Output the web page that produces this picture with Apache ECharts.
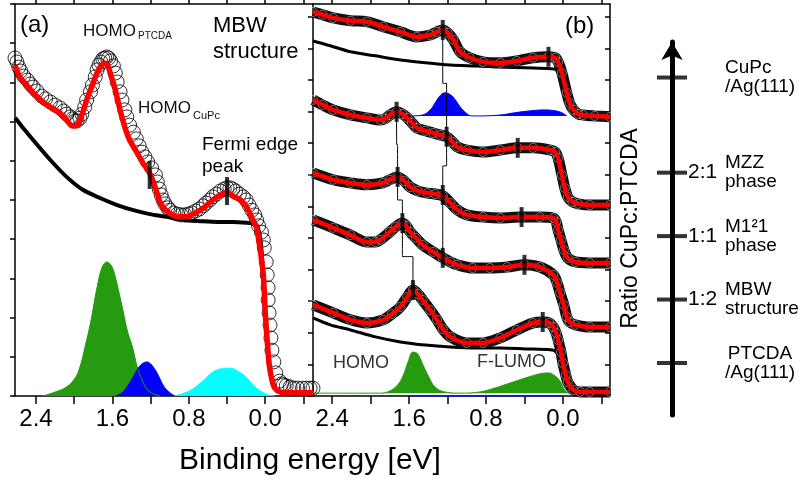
<!DOCTYPE html>
<html>
<head>
<meta charset="utf-8">
<script src="https://cdn.jsdelivr.net/npm/echarts@6.0.0/dist/echarts.min.js"></script>
<style>
html,body{margin:0;padding:0;background:#fff}
#main{width:804px;height:485px}
</style>
</head>
<body>
<div id="main"></div>
<script>
var FONT = '"Liberation Sans", Arial, sans-serif'

// ---- panel (a): MBW structure ----
var aFitE = [2.62,2.57,2.49,2.43,2.34,2.25,2.15,2.08,2.02,1.97,1.92,1.87,1.81,1.76,1.72,1.68,1.65,1.62,1.57,1.52,1.47,1.42,1.34,1.28,1.21,1.15,1.12,1.10,1.04,0.97,0.89,0.82,0.76,0.68,0.61,0.55,0.47,0.40,0.34,0.26,0.19,0.13,0.09,0.06,0.02,0.00,-0.02,-0.04,-0.07,-0.10,-0.16,-0.26,-0.36,-0.50]
var aFitI = [8.44,8.14,7.91,7.73,7.53,7.37,7.22,7.04,6.89,6.91,7.17,7.55,7.93,8.24,8.42,8.49,8.44,8.21,7.81,7.30,6.86,6.53,6.20,5.94,5.69,5.31,5.08,4.92,4.74,4.62,4.57,4.57,4.64,4.74,4.87,5.00,5.13,5.20,5.10,5.00,4.80,4.49,4.29,3.85,3.09,2.12,1.43,0.84,0.41,0.20,0.10,0.08,0.08,0.08]
// measured points (open circles)
var aDataE = [2.62,2.60,2.58,2.56,2.53,2.49,2.46,2.43,2.39,2.34,
	2.30,2.25,2.20,2.15,2.11,2.08,2.04,2.02,1.99,1.97,
	1.94,1.92,1.89,1.87,1.83,1.81,1.78,1.76,1.74,1.72,
	1.70,1.68,1.66,1.64,1.62,1.59,1.57,1.55,1.52,1.50,
	1.47,1.45,1.42,1.38,1.35,1.32,1.29,1.26,1.23,1.19,
	1.15,1.13,1.11,1.09,1.07,1.05,1.02,1.00,0.96,0.92,
	0.88,0.84,0.80,0.77,0.73,0.69,0.65,0.62,0.58,0.55,
	0.51,0.47,0.43,0.40,0.37,0.34,0.31,0.27,0.23,0.20,
	0.17,0.14,0.11,0.09,0.07,0.04,0.02,0.01,-0.01,-0.02,
	-0.03,-0.03,-0.04,-0.05,-0.06,-0.07,-0.09,-0.11,-0.15,-0.17,
	-0.19,-0.22,-0.26,-0.30,-0.34,-0.39,-0.43,-0.47,-0.50]
var aDataI = [8.62,8.52,8.39,8.29,8.16,8.06,7.96,7.88,7.78,7.65,
	7.58,7.50,7.42,7.35,7.27,7.19,7.12,7.07,7.02,7.02,
	7.09,7.19,7.37,7.55,7.76,7.93,8.14,8.32,8.44,8.52,
	8.60,8.62,8.65,8.62,8.55,8.42,8.24,8.01,7.76,7.55,
	7.30,7.12,6.91,6.73,6.56,6.38,6.22,6.10,5.97,5.82,
	5.64,5.46,5.28,5.13,5.00,4.90,4.80,4.74,4.67,4.64,
	4.62,4.62,4.64,4.67,4.72,4.77,4.85,4.92,5.00,5.08,
	5.15,5.23,5.28,5.31,5.31,5.28,5.23,5.15,5.08,5.00,
	4.87,4.74,4.62,4.49,4.34,4.18,3.98,3.78,3.42,3.09,
	2.76,2.45,2.12,1.81,1.48,1.17,0.87,0.59,0.38,0.31,
	0.28,0.26,0.23,0.20,0.20,0.20,0.20,0.20,0.20]
var aBgE = [2.62,2.60,2.52,2.43,2.25,2.08,1.91,1.73,1.55,1.38,1.21,1.03,0.86,0.68,0.50,0.34,0.16,0.10,0.05,0.02,-0.02,-0.05,-0.10,-0.21,-0.50]
var aBgI = [7.09,7.04,6.79,6.53,6.02,5.59,5.26,5.05,4.87,4.74,4.64,4.57,4.49,4.46,4.44,4.44,4.41,4.39,3.98,2.96,1.43,0.66,0.20,0.08,0.08]
var aGreenE = [2.33,2.20,2.08,1.99,1.94,1.89,1.83,1.76,1.71,1.66,1.61,1.57,1.53,1.49,1.44,1.39,1.34,1.29,1.24,1.19,1.10]
var aGreenI = [0,0.10,0.23,0.46,0.74,1.22,1.86,2.78,3.27,3.42,3.32,3.04,2.63,2.19,1.63,1.25,0.74,0.41,0.18,0.08,0]
var aBlueE = [1.57,1.50,1.42,1.37,1.33,1.29,1.24,1.20,1.15,1.11,1.07,1.02,0.95]
var aBlueI = [0,0.08,0.33,0.54,0.71,0.82,0.87,0.82,0.66,0.48,0.28,0.13,0]
var aCyanE = [0.95,0.84,0.76,0.68,0.61,0.55,0.47,0.40,0.33,0.26,0.19,0.13,0.05,-0.03,-0.10]
var aCyanI = [0,0.08,0.18,0.33,0.48,0.61,0.69,0.71,0.69,0.59,0.46,0.28,0.13,0.03,0]
var aMarkE = [1.21,0.40]
var aMarkI = [5.64,5.23]

// ---- panel (b): five spectra, top = CuPc/Ag(111), bottom = PTCDA/Ag(111) ----
var b1E = [2.60,2.50,2.39,2.21,2.04,1.87,1.69,1.52,1.38,1.31,1.25,1.20,1.14,1.07,0.97,0.83,0.65,0.48,0.31,0.15,0.08,0.05,0.01,-0.04,-0.07,-0.11,-0.16,-0.21,-0.33,-0.49]
var b1I = [12.15,12.06,11.96,11.87,11.84,11.68,11.52,11.36,11.42,11.52,11.58,11.49,11.27,10.89,10.70,10.57,10.54,10.60,10.70,10.73,10.70,10.57,10.22,9.59,9.27,9.05,8.92,8.89,8.86,8.83]
var b1BgE = [2.60,2.42,2.21,1.95,1.69,1.43,1.17,0.91,0.65,0.39,0.13,0.07,0.03,-0.02,-0.07,-0.13,-0.23,-0.49]
var b1BgI = [11.23,11.08,10.89,10.76,10.63,10.54,10.47,10.44,10.41,10.38,10.35,10.32,10.06,9.53,9.18,8.96,8.86,8.83]
var bBlueE = [1.56,1.46,1.38,1.33,1.28,1.23,1.17,1.12,1.07,1.01,0.95,0.86,0.65,0.50,0.34,0.19,0.08,0.01,-0.04]
var bBlueI = [8.86,8.89,9.05,9.27,9.49,9.59,9.53,9.37,9.15,8.96,8.86,8.86,8.89,8.96,9.02,9.05,9.02,8.96,8.86]
var b2E = [2.60,2.50,2.39,2.21,2.04,1.90,1.85,1.80,1.73,1.67,1.62,1.57,1.52,1.43,1.35,1.28,1.21,1.15,1.10,1.00,0.83,0.65,0.47,0.31,0.13,0.08,0.05,0.01,-0.02,-0.05,-0.10,-0.16,-0.28,-0.49]
var b2I = [9.37,9.21,9.05,8.89,8.80,8.73,8.77,8.89,8.99,8.92,8.80,8.64,8.48,8.39,8.32,8.26,8.20,8.04,7.88,7.78,7.72,7.78,7.85,7.85,7.78,7.72,7.53,6.99,6.58,6.30,6.14,6.08,6.04,6.04]
var b3E = [2.60,2.39,2.21,2.04,1.87,1.80,1.72,1.65,1.59,1.51,1.41,1.33,1.25,1.17,1.10,1.00,0.83,0.65,0.43,0.24,0.10,0.07,0.05,0.02,-0.01,-0.05,-0.13,-0.28,-0.49]
var b3I = [7.06,6.84,6.74,6.68,6.74,6.84,6.93,6.80,6.61,6.49,6.42,6.39,6.33,6.11,5.89,5.73,5.66,5.63,5.66,5.66,5.63,5.51,5.25,4.94,4.62,4.37,4.24,4.21,4.21]
var b4E = [2.60,2.39,2.21,2.04,1.95,1.90,1.80,1.74,1.67,1.63,1.59,1.53,1.46,1.35,1.25,1.17,1.10,0.94,0.76,0.58,0.40,0.24,0.10,0.06,0.03,-0.01,-0.04,-0.07,-0.13,-0.28,-0.49]
var b4I = [5.57,5.32,5.09,4.87,4.87,4.94,5.19,5.35,5.47,5.38,5.19,5.00,4.78,4.56,4.37,4.24,4.15,4.05,4.05,4.08,4.15,4.08,3.83,3.58,3.26,2.88,2.50,2.34,2.25,2.18,2.18]
var b5E = [2.60,2.39,2.21,2.04,1.87,1.78,1.69,1.62,1.56,1.51,1.46,1.38,1.31,1.25,1.17,1.00,0.83,0.65,0.48,0.31,0.21,0.14,0.10,0.07,0.05,0.02,0.00,-0.03,-0.05,-0.11,-0.18,-0.28,-0.49]
var b5I = [2.88,2.63,2.41,2.31,2.41,2.59,2.82,3.13,3.35,3.23,3.04,2.72,2.41,2.12,1.87,1.68,1.68,1.84,2.09,2.31,2.34,2.31,2.18,1.99,1.77,1.39,1.04,0.66,0.44,0.19,0.13,0.13,0.13]
var b5BgE = [2.60,2.42,2.21,1.95,1.69,1.43,1.17,0.91,0.65,0.39,0.13,0.07,0.03,-0.01,-0.05,-0.13,-0.28,-0.49]
var b5BgI = [2.47,2.25,2.09,1.87,1.71,1.61,1.55,1.52,1.52,1.49,1.46,1.39,1.08,0.66,0.35,0.16,0.13,0.13]
var bGreenE = [2.60,1.90,1.80,1.72,1.66,1.61,1.56,1.51,1.46,1.40,1.33,1.23,1.07,0.86,0.71,0.55,0.39,0.24,0.15,0.08,0.03,-0.02,-0.07,-0.49]
var bGreenI = [0.09,0.09,0.16,0.35,0.66,1.08,1.39,1.33,1.01,0.63,0.28,0.13,0.09,0.13,0.25,0.41,0.57,0.70,0.73,0.63,0.47,0.19,0.09,0.09]
var bZeroE = [1.59,0.01]
var bZeroI = [0,0]
// peak positions (markers) per spectrum
var bHomoPE = [1.73,1.72,1.67,1.56]
var bHomoPI = [8.99,6.93,5.47,3.35]
var bHomoCE = [1.25,1.21,1.25,1.25]
var bHomoCI = [11.58,8.20,6.36,4.37]
var bFermiE = [0.15,0.47,0.43,0.40,0.21]
var bFermiI = [10.73,7.85,5.66,4.15,2.34]

// ---- ratio arrow ----
var ratioPos = [0,1,2,3,4.5]
var ratioText = ['','1:2','1:1','2:1','']
var phaseText = ['{c|PTCDA}\n{c|/Ag(111)}','MBW\nstructure','M1\u00b21\nphase','MZZ\nphase','CuPc\n/Ag(111)']

var tickE = [-0.4,0,0.4,0.8,1.2,1.6,2.0,2.4]
var labelE = [0,0.8,1.6,2.4]

function pts(E,I){ return E.map(function(e,i){return [e,I[i]]}) }
// step connector between markers of neighbouring spectra
function steps(E,I){
	var out=[]
	for(var i=0;i<E.length;i++){
		out.push([E[i],I[i]])
		if(i<E.length-1){
			var mid=(I[i]+I[i+1])/2
			out.push([E[i],mid]); out.push([E[i+1],mid])
		}
	}
	return out
}

function xAx(gi,pos,min,max){
	return {type:'value',gridIndex:gi,position:pos,inverse:true,min:min,max:max,
		axisLine:{show:true,onZero:false,lineStyle:{color:'#000',width:1.5}},
		axisTick:{show:true,inside:false,length:pos=='bottom'?8:6,customValues:tickE,lineStyle:{color:'#000',width:1.5}},
		axisLabel:{show:pos=='bottom',customValues:labelE,margin:11,fontSize:24,color:'#000',fontFamily:FONT,
			formatter:function(v){return v.toFixed(1)}},
		splitLine:{show:false}}
}
function yAx(gi,pos,max,ticks,inside){
	return {type:'value',gridIndex:gi,position:pos,min:0,max:max,
		axisLine:{show:true,onZero:false,lineStyle:{color:'#000',width:1.5}},
		axisTick:{show:true,inside:inside,length:5,customValues:ticks,lineStyle:{color:'#000',width:1.5}},
		axisLabel:{show:false},splitLine:{show:false}}
}
function areaS(xi,yi,data,color,origin){
	return {type:'line',xAxisIndex:xi,yAxisIndex:yi,data:data,symbol:'none',smooth:0.4,
		lineStyle:{color:color,width:1},areaStyle:{color:color,opacity:1,origin:origin},z:2}
}
function lineS(xi,yi,data,color,width,z){
	return {type:'line',xAxisIndex:xi,yAxisIndex:yi,data:data,symbol:'none',smooth:0.3,
		lineStyle:{color:color,width:width},z:z}
}
function markS(xi,yi,data,h){
	return {type:'scatter',xAxisIndex:xi,yAxisIndex:yi,data:data,symbol:'rect',symbolSize:[4,h],
		itemStyle:{color:'#000'},z:8}
}
function bandS(data){
	return {type:'line',xAxisIndex:2,yAxisIndex:1,data:data,smooth:0.3,showAllSymbol:true,
		symbol:'circle',symbolSize:9,lineStyle:{color:'#111',width:11},
		itemStyle:{color:'rgba(0,0,0,0)',borderColor:'rgba(255,255,255,0.4)',borderWidth:1},z:4}
}

var chart = echarts.init(document.getElementById('main'))
var specs=[pts(b1E,b1I),pts(b2E,b2I),pts(b3E,b3I),pts(b4E,b4I),pts(b5E,b5I)]

var series=[
	areaS(0,0,pts(aGreenE,aGreenI),'#279b0f',0),
	areaS(0,0,pts(aBlueE,aBlueI),'#0000ff',0),
	areaS(0,0,pts(aCyanE,aCyanI),'#00ffff',0),
	lineS(0,0,pts(aBgE,aBgI),'#000',4,3),
	{type:'scatter',xAxisIndex:0,yAxisIndex:0,data:pts(aDataE,aDataI),symbol:'circle',symbolSize:14,
		itemStyle:{color:'rgba(0,0,0,0)',borderColor:'#000',borderWidth:1},z:4},
	lineS(0,0,pts(aFitE,aFitI),'#ff0000',5.5,5),
	markS(0,0,pts(aMarkE,aMarkI),28),

	areaS(2,1,pts(bGreenE,bGreenI),'#279b0f',0.09),
	areaS(2,1,pts(bBlueE,bBlueI),'#0000ff',8.86),
	lineS(2,1,pts(bZeroE,bZeroI),'#1f1fb0',2,3),
	lineS(2,1,pts(b1BgE,b1BgI),'#000',3,3),
	lineS(2,1,pts(b5BgE,b5BgI),'#000',3,3)
]
specs.forEach(function(d){ series.push(bandS(d)) })
specs.forEach(function(d){ series.push(lineS(2,1,d,'#ff0000',4.5,5)) })
series.push(lineS(2,1,steps(bHomoPE,bHomoPI),'#000',1,6))
series.push(lineS(2,1,steps(bHomoCE,bHomoCI),'#000',1,6))
series.push(markS(2,1,pts(bHomoPE,bHomoPI),20))
series.push(markS(2,1,pts(bHomoCE,bHomoCI),20))
series.push(markS(2,1,pts(bFermiE,bFermiI),20))
// ratio arrow ticks
series.push({type:'scatter',xAxisIndex:4,yAxisIndex:3,clip:false,
	data:ratioPos.map(function(v){return [0,v]}),symbol:'rect',symbolSize:[30,4],itemStyle:{color:'#000'}})

var txt=function(x,y,s,size,color){
	return {type:'text',x:x,y:y,z:20,style:{text:s,fontSize:size,fontFamily:FONT,fill:color||'#000',
		align:'left',verticalAlign:'middle',textAlign:'left',textVerticalAlign:'middle'}}
}

var option={
	animation:false,
	backgroundColor:'#fff',
	grid:[
		{left:15,top:4,width:298,height:392,outerBoundsMode:'none'},
		{left:313,top:4,width:297,height:392,outerBoundsMode:'none'},
		{left:672,top:42,width:30,height:373,outerBoundsMode:'none'}
	],
	xAxis:[
		xAx(0,'bottom',-0.5,2.62),
		xAx(0,'top',-0.5,2.62),
		xAx(1,'bottom',-0.49,2.6),
		xAx(1,'top',-0.49,2.6),
		{type:'value',gridIndex:2,min:0,max:1,show:false}
	],
	yAxis:[
		yAx(0,'left',10,[0,1,2,3,4,5,6,7,8,9,10],false),
		yAx(1,'left',12.4,[0,1,2,3,4,5,6,7,8,9,10,11,12],false),
		yAx(1,'right',12.4,[0,1,2,3,4,5,6,7,8,9,10,11,12],true),
		{type:'value',gridIndex:2,position:'left',min:-0.82,max:5.06,
			name:'Ratio CuPc:PTCDA',nameLocation:'middle',nameRotate:90,nameGap:30,
			nameTextStyle:{fontSize:23,color:'#000',fontFamily:FONT},
			axisLine:{show:true,onZero:false,symbol:['none','arrow'],symbolSize:[16,18],lineStyle:{color:'#000',width:5}},
			axisTick:{show:false},splitLine:{show:false},
			axisLabel:{inside:true,margin:16,customValues:[1,2,3],fontSize:21,color:'#000',fontFamily:FONT,
				formatter:function(v){return ratioText[ratioPos.indexOf(v)]}}},
		{type:'value',gridIndex:2,position:'left',min:-0.82,max:5.06,
			axisLine:{show:false},axisTick:{show:false},splitLine:{show:false},
			axisLabel:{inside:true,margin:53,customValues:ratioPos,fontSize:19,lineHeight:19,color:'#000',fontFamily:FONT,
				align:'left',rich:{c:{align:'center',fontSize:19,lineHeight:19,fontFamily:FONT,color:'#000'}},
				formatter:function(v){return phaseText[ratioPos.indexOf(v)]}}}
	],
	series:series,
	graphic:[
		txt(20,25,'(a)',24),
		txt(565,26,'(b)',24),
		txt(83,31,'HOMO',17,'#111'),
		txt(138,36,'PTCDA',10,'#111'),
		txt(138,108,'HOMO',17,'#111'),
		txt(193,116,'CuPc',11,'#111'),
		txt(213,26,'MBW',22),
		txt(213,52,'structure',22),
		txt(202,145,'Fermi edge',19),
		txt(202,167,'peak',19),
		txt(333,363,'HOMO',18,'#333'),
		txt(477,362,'F-LUMO',18,'#333'),
		{type:'text',x:310,y:461,z:20,style:{text:'Binding energy [eV]',fontSize:30,fontFamily:FONT,fill:'#000',
			align:'center',verticalAlign:'middle',textAlign:'center',textVerticalAlign:'middle'}}
	]
}
chart.setOption(option)
</script>
</body>
</html>
